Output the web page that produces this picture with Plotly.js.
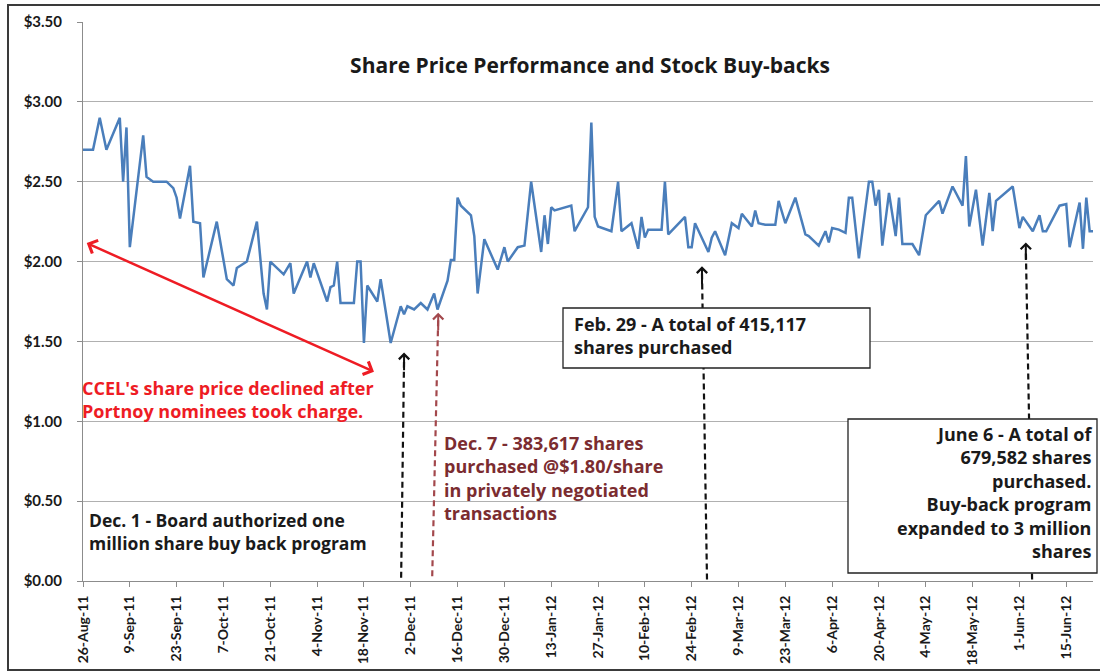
<!DOCTYPE html>
<html>
<head>
<meta charset="utf-8">
<script src="https://cdn.plot.ly/plotly-3.0.1.min.js"></script>
<style>html,body{margin:0;padding:0;background:#fff;}#chart{width:1100px;height:672px;}</style>
</head>
<body>
<div id="chart"></div>
<script>
const dates = [
 "2011-08-26","2011-08-29","2011-08-31","2011-09-02","2011-09-06","2011-09-07","2011-09-08","2011-09-09","2011-09-13","2011-09-14",
 "2011-09-16","2011-09-20","2011-09-22","2011-09-23","2011-09-24","2011-09-27","2011-09-28","2011-09-30","2011-10-01","2011-10-05",
 "2011-10-08","2011-10-10","2011-10-11","2011-10-14","2011-10-17","2011-10-19","2011-10-20","2011-10-21","2011-10-25","2011-10-27",
 "2011-10-28","2011-11-01","2011-11-02","2011-11-03","2011-11-07","2011-11-08","2011-11-09","2011-11-10","2011-11-11","2011-11-15",
 "2011-11-16","2011-11-17","2011-11-18","2011-11-19","2011-11-22","2011-11-23","2011-11-26","2011-11-29","2011-11-30","2011-12-01",
 "2011-12-03","2011-12-05","2011-12-07","2011-12-09","2011-12-10","2011-12-13","2011-12-14","2011-12-15","2011-12-16","2011-12-17",
 "2011-12-20","2011-12-21","2011-12-22","2011-12-24","2011-12-28","2011-12-30","2011-12-31","2012-01-03","2012-01-05","2012-01-07",
 "2012-01-10","2012-01-11","2012-01-12","2012-01-13","2012-01-14","2012-01-19","2012-01-20","2012-01-24","2012-01-25","2012-01-26",
 "2012-01-27","2012-01-31","2012-02-02","2012-02-03","2012-02-06","2012-02-08","2012-02-09","2012-02-10","2012-02-11","2012-02-15",
 "2012-02-16","2012-02-17","2012-02-22","2012-02-23","2012-02-24","2012-02-25","2012-02-29","2012-03-01","2012-03-02","2012-03-05",
 "2012-03-07","2012-03-09","2012-03-10","2012-03-13","2012-03-14","2012-03-15","2012-03-17","2012-03-20","2012-03-21","2012-03-23",
 "2012-03-26","2012-03-29","2012-03-30","2012-04-02","2012-04-04","2012-04-05","2012-04-06","2012-04-08","2012-04-10","2012-04-11",
 "2012-04-12","2012-04-14","2012-04-17","2012-04-18","2012-04-19","2012-04-20","2012-04-21","2012-04-23","2012-04-25","2012-04-26",
 "2012-04-27","2012-04-30","2012-05-02","2012-05-04","2012-05-08","2012-05-09","2012-05-12","2012-05-15","2012-05-16","2012-05-17",
 "2012-05-19","2012-05-21","2012-05-23","2012-05-24","2012-05-25","2012-05-30","2012-06-01","2012-06-02","2012-06-05","2012-06-07",
 "2012-06-08","2012-06-09","2012-06-13","2012-06-15","2012-06-16","2012-06-19","2012-06-20","2012-06-21","2012-06-22","2012-06-23"
];
const prices = [
 2.70,2.70,2.90,2.70,2.90,2.50,2.84,2.09,2.79,2.53,
 2.50,2.50,2.46,2.40,2.27,2.60,2.25,2.24,1.90,2.25,
 1.89,1.85,1.96,2.00,2.25,1.80,1.70,2.00,1.92,1.99,
 1.80,2.00,1.90,1.99,1.75,1.84,1.85,2.00,1.74,1.74,
 2.00,2.00,1.49,1.85,1.75,1.89,1.49,1.72,1.67,1.72,
 1.70,1.74,1.70,1.80,1.70,1.88,2.01,2.01,2.40,2.35,
 2.29,2.16,1.80,2.14,1.95,2.09,2.00,2.09,2.10,2.50,
 2.06,2.29,2.11,2.34,2.32,2.35,2.19,2.34,2.87,2.28,
 2.22,2.19,2.50,2.19,2.24,2.08,2.28,2.15,2.20,2.20,
 2.50,2.17,2.28,2.09,2.09,2.24,2.06,2.15,2.19,2.04,
 2.24,2.21,2.30,2.22,2.32,2.24,2.23,2.23,2.38,2.24,
 2.40,2.17,2.16,2.10,2.19,2.12,2.21,2.20,2.18,2.40,
 2.40,2.02,2.50,2.50,2.35,2.45,2.10,2.43,2.16,2.40,
 2.11,2.11,2.04,2.29,2.38,2.30,2.47,2.35,2.66,2.22,
 2.45,2.10,2.43,2.19,2.38,2.47,2.21,2.28,2.19,2.29,
 2.19,2.19,2.35,2.36,2.09,2.37,2.08,2.40,2.19,2.19
];
const xTickVals = ["2011-08-26","2011-09-09","2011-09-23","2011-10-07","2011-10-21","2011-11-04","2011-11-18","2011-12-02","2011-12-16","2011-12-30","2012-01-13","2012-01-27","2012-02-10","2012-02-24","2012-03-09","2012-03-23","2012-04-06","2012-04-20","2012-05-04","2012-05-18","2012-06-01","2012-06-15"];
const xTickText = ["26-Aug-11","9-Sep-11","23-Sep-11","7-Oct-11","21-Oct-11","4-Nov-11","18-Nov-11","2-Dec-11","16-Dec-11","30-Dec-11","13-Jan-12","27-Jan-12","10-Feb-12","24-Feb-12","9-Mar-12","23-Mar-12","6-Apr-12","20-Apr-12","4-May-12","18-May-12","1-Jun-12","15-Jun-12"];
const yTickVals = [0,0.5,1,1.5,2,2.5,3,3.5];
const yTickText = ["$0.00","$0.50","$1.00","$1.50","$2.00","$2.50","$3.00","$3.50"];

const chartTitle = "Share Price Performance and Stock Buy-backs";
const noteDec1 = "Dec. 1 - Board authorized one<br>million share buy back program";
const noteDecline = "CCEL's share price declined after<br>Portnoy nominees took charge.";
const noteDec7 = "Dec. 7 - 383,617 shares<br>purchased @$1.80/share<br>in privately negotiated<br>transactions";
const noteFeb29 = "Feb. 29 - A total of 415,117<br>shares purchased";
const noteJune6 = "June 6 - A total of<br>679,582 shares<br>purchased.<br>Buy-back program<br>expanded to 3 million<br>shares";

// layout helpers (pixel -> paper)
const PL = 83, PR = 1093, PT = 22, PB = 581;
const fx = p => (p - PL) / (PR - PL);
const fy = p => (PB - p) / (PB - PT);

const FONT = "'Open Sans', Lato, sans-serif";
const TICKFONT = "Lato, 'Open Sans', sans-serif";
const dark = "#1a1a1a";

const dashArrows = [
  {x0:"2011-11-29 03:00", y0:0.02, x1:"2011-11-30 00:00", y1:1.43, color:"#111111"},
  {x0:"2011-12-08 10:00", y0:0.03, x1:"2011-12-10 05:00", y1:1.68, color:"#a3484c"},
  {x0:"2012-02-28 14:00", y0:0.01, x1:"2012-02-27 02:00", y1:1.97, color:"#111111"},
  {x0:"2012-06-04 19:00", y0:0.01, x1:"2012-06-02 22:00", y1:2.12, color:"#111111"}
];

const shapes = [];
const annotations = [];
dashArrows.forEach(a => {
  shapes.push({type:"line", xref:"x", yref:"y", x0:a.x0, y0:a.y0, x1:a.x1, y1:a.y1 - 0.04,
    line:{color:a.color, width:2.2, dash:"6px,4px"}, layer:"above"});
  annotations.push({xref:"x", yref:"y", axref:"x", ayref:"y", x:a.x1, y:a.y1, ax:a.x1, ay:a.y1 - 0.12,
    text:"", showarrow:true, arrowhead:4, arrowsize:1, arrowwidth:2, arrowcolor:a.color, standoff:0});
});
// boxes
shapes.push({type:"rect", xref:"paper", yref:"paper", x0:fx(563), x1:fx(870), y0:fy(368), y1:fy(308),
  line:{color:"#222", width:1.3}, fillcolor:"#ffffff", layer:"above"});
shapes.push({type:"rect", xref:"paper", yref:"paper", x0:fx(848), x1:fx(1097), y0:fy(573), y1:fy(419),
  line:{color:"#222", width:1.3}, fillcolor:"#ffffff", layer:"above"});
// outer frame
shapes.push({type:"rect", xref:"paper", yref:"paper", x0:fx(8), x1:fx(1106), y0:fy(670), y1:fy(5),
  line:{color:"#3a3a3a", width:2}, fillcolor:"rgba(0,0,0,0)", layer:"above"});

// red double arrow
annotations.push({xref:"x", yref:"y", axref:"x", ayref:"y", x:"2011-11-21", y:1.31, ax:"2011-08-26 16:00", ay:2.12,
  text:"", showarrow:true, arrowhead:4, startarrowhead:4, arrowside:"end+start", arrowsize:1.1, startarrowsize:1.1,
  arrowwidth:2.5, arrowcolor:"#ee1c24", standoff:0, startstandoff:0});

const tfont = (c) => ({family:FONT, size:18, color:c, weight:"bold"});
const boldLines = s => "<b>" + s.split("<br>").join("</b><br><b>") + "</b>";
annotations.push({xref:"paper", yref:"paper", x:fx(87), y:fy(531), xanchor:"left", yanchor:"middle", align:"left",
  text:boldLines(noteDec1), showarrow:false, font:{family:FONT, size:17.5, color:dark, weight:"bold"}});
annotations.push({xref:"paper", yref:"paper", x:fx(80), y:fy(399.5), xanchor:"left", yanchor:"middle", align:"left",
  text:boldLines(noteDecline), showarrow:false, font:tfont("#ee1c24")});
annotations.push({xref:"paper", yref:"paper", x:fx(442), y:fy(478), xanchor:"left", yanchor:"middle", align:"left",
  text:boldLines(noteDec7), showarrow:false, font:tfont("#7b2c30")});
annotations.push({xref:"paper", yref:"paper", x:fx(572), y:fy(335), xanchor:"left", yanchor:"middle", align:"left",
  text:boldLines(noteFeb29), showarrow:false, font:tfont(dark)});
annotations.push({xref:"paper", yref:"paper", x:fx(1094), y:fy(492.5), xanchor:"right", yanchor:"middle", align:"right",
  text:boldLines(noteJune6), showarrow:false, font:tfont(dark)});

const trace = {
  x: dates, y: prices, type:"scatter", mode:"lines",
  line:{color:"#4a7ebb", width:2.5}, hoverinfo:"x+y"
};

const layout = {
  width:1100, height:672,
  margin:{l:PL, r:1100-PR, t:PT, b:672-PB},
  paper_bgcolor:"#ffffff", plot_bgcolor:"#ffffff",
  showlegend:false,
  title:{text:"<b>"+chartTitle+"</b>", x:fx(590), xanchor:"center", xref:"paper", y:1-66/672, yref:"container", yanchor:"middle",
    font:{family:FONT, size:21, color:dark}},
  xaxis:{type:"date", range:["2011-08-26","2012-06-23"], tickvals:xTickVals, ticktext:xTickText, tickangle:-90,
    showgrid:false, zeroline:false, showline:true, linecolor:"#8c8c8c", linewidth:1,
    ticks:"outside", ticklen:5, tickcolor:"#8c8c8c", ticklabelstandoff:3,
    tickfont:{family:TICKFONT, size:14, color:dark, weight:"bold"}},
  yaxis:{range:[0,3.5], tickvals:yTickVals, ticktext:yTickText, showgrid:true, gridcolor:"#b0b0b0", gridwidth:1,
    zeroline:false, showline:true, linecolor:"#8c8c8c", linewidth:1, ticks:"outside", ticklen:5, tickcolor:"#8c8c8c",
    ticklabelstandoff:12, tickfont:{family:TICKFONT, size:15, color:dark, weight:"bold"}},
  shapes:shapes, annotations:annotations
};

Plotly.newPlot("chart", [trace], layout, {staticPlot:true, displayModeBar:false});
</script>
</body>
</html>
